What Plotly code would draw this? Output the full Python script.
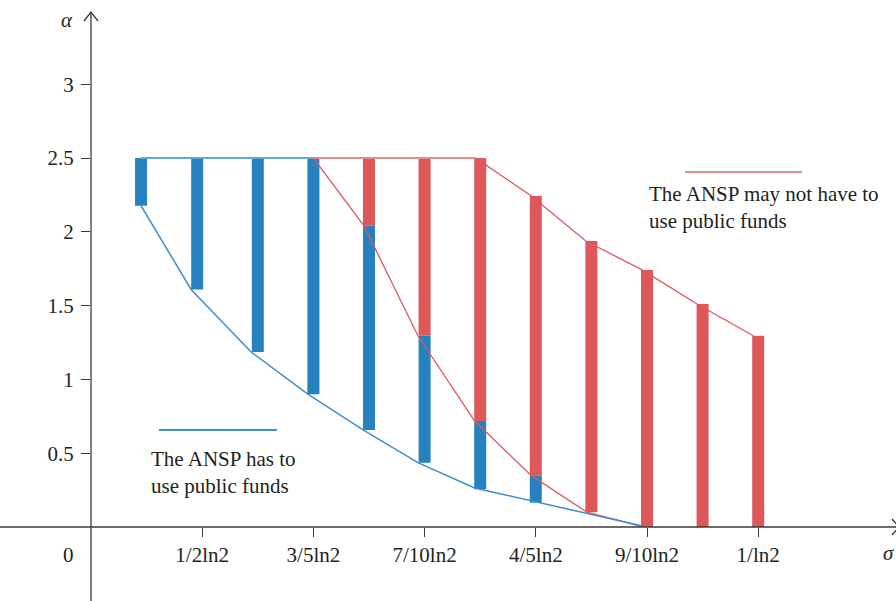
import plotly.graph_objects as go

# ---------------- data ----------------
tick_vals = [5, 6, 7, 8, 9, 10]
tick_text = ["1/2ln2", "3/5ln2", "7/10ln2", "4/5ln2", "9/10ln2", "1/ln2"]
y_ticks = [0.5, 1, 1.5, 2, 2.5, 3]
y_tick_text = ["0.5", "1", "1.5", "2", "2.5", "3"]

blue_bar_x = [4.45, 4.955, 5.5, 6.0, 6.5, 7.0, 7.5, 8.0]
blue_bar_bottom = [2.177, 1.61, 1.186, 0.90, 0.657, 0.436, 0.255, 0.165]
blue_bar_top = [2.5, 2.5, 2.5, 2.5, 2.041, 1.296, 0.718, 0.348]

red_bar_x = [6.5, 7.0, 7.5, 8.0, 8.5, 9.0, 9.5, 10.0]
red_bar_bottom = [2.041, 1.296, 0.718, 0.348, 0.10, 0.0, 0.0, 0.0]
red_bar_top = [2.5, 2.5, 2.5, 2.243, 1.938, 1.741, 1.511, 1.296]

blue_curve_x = [4.45, 4.90, 5.44, 5.95, 6.45, 6.94, 7.45, 7.95, 8.45, 9.0]
blue_curve_y = [2.177, 1.61, 1.186, 0.90, 0.657, 0.436, 0.264, 0.178, 0.095, 0.0]

red_diag_x = [6.0, 6.455, 6.94, 7.45, 7.96, 8.46, 8.97]
red_diag_y = [2.5, 2.041, 1.296, 0.718, 0.348, 0.10, 0.0]

blue_top_x = [4.45, 6.0]
blue_top_y = [2.5, 2.5]

red_top_x = [6.0, 7.46, 7.96, 8.45, 8.96, 9.45, 9.955]
red_top_y = [2.5, 2.5, 2.243, 1.938, 1.741, 1.511, 1.296]

legend_red_text = "The ANSP may not have to<br>use public funds"
legend_blue_text = "The ANSP has to<br>use public funds"

# ---------------- style ----------------
BLUE = "#2582BE"
RED = "#DE585A"
BLUE_LINE = "#3A90D1"
RED_LINE = "#E0575C"
BLUE_TOP = "#64A8D9"
RED_TOP = "#E88C8D"
AXIS = "#3a3a3a"
TXT = "#231F20"
FONT = "Liberation Serif"
FS = 21
BAR_W = 0.108

W, H = 896, 601
ML, MR, MT, MB = 91, 3, 12, 74
PW, PH = W - ML - MR, H - MT - MB

fig = go.Figure()

fig.add_trace(go.Bar(
    x=blue_bar_x,
    y=[t - b for t, b in zip(blue_bar_top, blue_bar_bottom)],
    base=blue_bar_bottom, width=BAR_W,
    marker=dict(color=BLUE, line=dict(width=0)), hoverinfo="skip"))
fig.add_trace(go.Bar(
    x=red_bar_x,
    y=[t - b for t, b in zip(red_bar_top, red_bar_bottom)],
    base=red_bar_bottom, width=BAR_W,
    marker=dict(color=RED, line=dict(width=0)), hoverinfo="skip"))

fig.add_trace(go.Scatter(x=blue_top_x, y=blue_top_y, mode="lines",
                         line=dict(color=BLUE_TOP, width=2.0), hoverinfo="skip"))
fig.add_trace(go.Scatter(x=red_top_x[:2], y=red_top_y[:2], mode="lines",
                         line=dict(color=RED_TOP, width=2.0), hoverinfo="skip"))
fig.add_trace(go.Scatter(x=red_top_x[1:], y=red_top_y[1:], mode="lines",
                         line=dict(color=RED_LINE, width=1.3), hoverinfo="skip"))
fig.add_trace(go.Scatter(x=red_diag_x, y=red_diag_y, mode="lines",
                         line=dict(color=RED_LINE, width=1.3), hoverinfo="skip"))
fig.add_trace(go.Scatter(x=blue_curve_x, y=blue_curve_y, mode="lines",
                         line=dict(color=BLUE_LINE, width=1.5), hoverinfo="skip"))


def px_x(p):
    return (p - ML) / PW


def px_y(p):
    return (H - MB - p) / PH


shapes = [
    dict(type="line", xref="paper", yref="paper", x0=px_x(0), x1=px_x(897), y0=0, y1=0,
         line=dict(color=AXIS, width=1.3), layer="above"),
    dict(type="line", xref="paper", yref="paper", x0=0, x1=0, y0=px_y(601), y1=1,
         line=dict(color=AXIS, width=1.3), layer="above"),
    dict(type="path", xref="paper", yref="paper",
         path=f"M {px_x(ML-7)} {px_y(MT+9)} L 0 1 L {px_x(ML+7)} {px_y(MT+9)}",
         line=dict(color=AXIS, width=1.3), layer="above"),
    dict(type="path", xref="paper", yref="paper",
         path=f"M {px_x(892)} {px_y(519)} L {px_x(899)} {px_y(527)} L {px_x(892)} {px_y(535)}",
         line=dict(color=AXIS, width=1.3), layer="above"),
    dict(type="line", xref="paper", yref="paper", x0=px_x(685), x1=px_x(802),
         y0=px_y(172), y1=px_y(172), line=dict(color=RED_TOP, width=2)),
    dict(type="line", xref="paper", yref="paper", x0=px_x(159), x1=px_x(277),
         y0=px_y(430), y1=px_y(430), line=dict(color=BLUE_LINE, width=2)),
]

annotations = [
    dict(xref="paper", yref="paper", x=px_x(647), y=px_y(207.5), xanchor="left",
         yanchor="middle", align="left", text=legend_red_text, showarrow=False,
         font=dict(family=FONT, size=FS, color=TXT)),
    dict(xref="paper", yref="paper", x=px_x(149), y=px_y(472), xanchor="left",
         yanchor="middle", align="left", text=legend_blue_text, showarrow=False,
         font=dict(family=FONT, size=FS, color=TXT)),
    dict(xref="paper", yref="paper", x=px_x(67), y=px_y(20), xanchor="center",
         yanchor="middle", text="<i>α</i>", showarrow=False,
         font=dict(family=FONT, size=FS, color=TXT)),
    dict(xref="paper", yref="paper", x=px_x(889), y=px_y(553), xanchor="center",
         yanchor="middle", text="<i>σ</i>", showarrow=False,
         font=dict(family=FONT, size=FS, color=TXT)),
    dict(xref="paper", yref="paper", x=px_x(68), y=px_y(555), xanchor="center",
         yanchor="middle", text="0", showarrow=False,
         font=dict(family=FONT, size=FS, color=TXT)),
]

fig.update_layout(
    width=W, height=H,
    margin=dict(l=ML, r=MR, t=MT, b=MB, pad=0),
    paper_bgcolor="white", plot_bgcolor="white",
    showlegend=False, barmode="overlay",
    shapes=shapes, annotations=annotations,
    font=dict(family=FONT, size=FS, color=TXT),
    xaxis=dict(range=[4.0, 4.0 + PW / 111.2], tickmode="array", tickvals=tick_vals,
               ticktext=tick_text, ticks="outside", ticklen=9, tickwidth=1.3,
               tickcolor=AXIS, showgrid=False, zeroline=False, showline=False,
               ticklabelstandoff=0, tickfont=dict(family=FONT, size=FS, color=TXT)),
    yaxis=dict(range=[0, 3.49], tickmode="array", tickvals=y_ticks,
               ticktext=y_tick_text, ticks="outside", ticklen=9, tickwidth=1.3,
               tickcolor=AXIS, showgrid=False, zeroline=False, showline=False,
               ticklabelstandoff=3, tickfont=dict(family=FONT, size=FS, color=TXT)),
)

fig.write_html("out.html", config={"displayModeBar": False},
               post_script="document.body.style.margin='0px';")
